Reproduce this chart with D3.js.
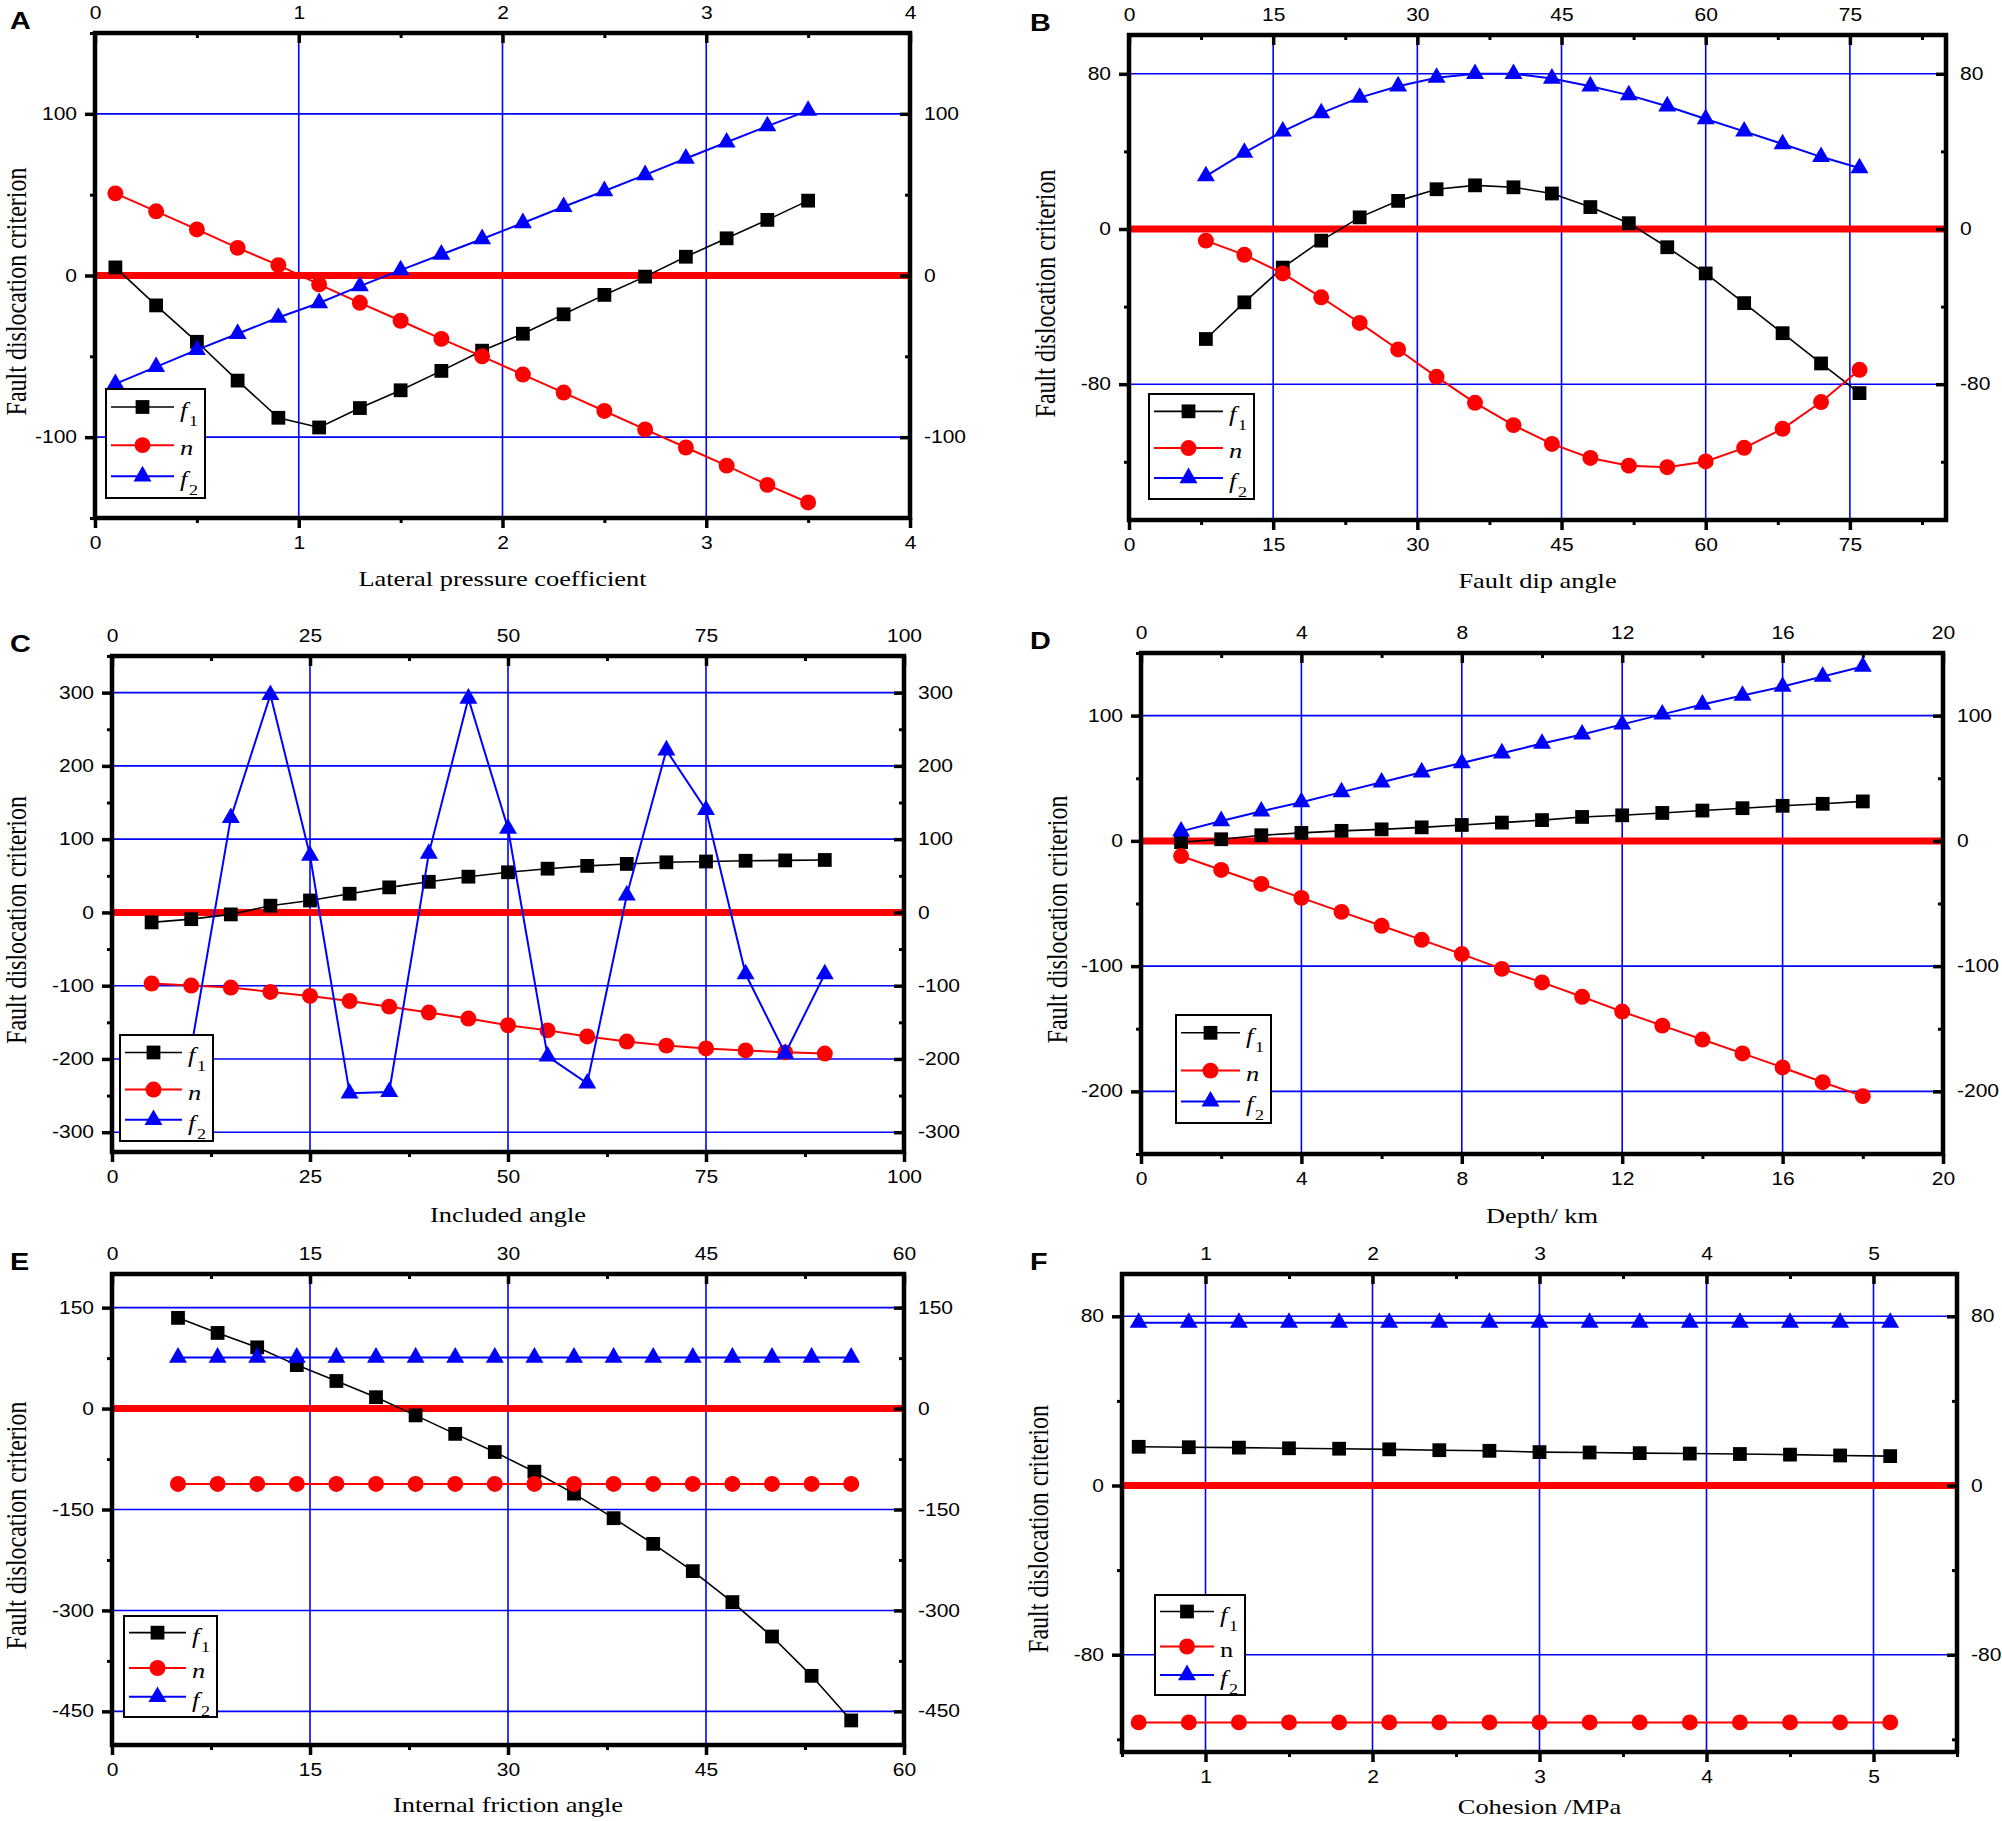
<!DOCTYPE html>
<html>
<head>
<meta charset="utf-8">
<script src="https://cdn.jsdelivr.net/npm/d3@7"></script>
<style>
  body { margin: 0; background: #fff; }
</style>
</head>
<body>
<div id="chart"></div>
<script>
// values, one list per series

// A - lateral pressure coefficient
const lateralX = [0.1, 0.3, 0.5, 0.7, 0.9, 1.1, 1.3, 1.5, 1.7, 1.9, 2.1, 2.3, 2.5, 2.7, 2.9, 3.1, 3.3, 3.5];
const lateralF1 = [5, -18.5, -41, -65, -88, -94, -82, -71, -59, -46.5, -36, -24, -12, -0.7, 11.6, 23, 34.4, 46.3];
const lateralN = [50.8, 39.7, 28.5, 17.1, 6.4, -5.5, -16.9, -28, -39.2, -50, -61.3, -72.4, -83.8, -95.2, -106.4, -117.6, -129.5, -140.4];
const lateralF2 = [-67, -56.5, -46, -36, -26, -17, -6.6, 3.3, 13, 22.6, 32.5, 42.5, 52.3, 62.2, 72.4, 82.4, 92.4, 102];

// B - fault dip angle
const dipX = [8, 12, 16, 20, 24, 28, 32, 36, 40, 44, 48, 52, 56, 60, 64, 68, 72, 76];
const dipF1 = [-56.7, -37.8, -19.9, -6, 6, 14.5, 20.5, 22.5, 21.5, 18.3, 11.3, 3, -9.4, -22.9, -38.2, -53.7, -69.3, -84.6];
const dipN = [-6, -13.3, -22.9, -35.2, -48.4, -62.1, -76.2, -89.6, -101.1, -110.8, -118, -122, -122.8, -119.8, -112.8, -103, -89.2, -72.6];
const dipF2 = [27.3, 39.4, 50.3, 59.7, 67.7, 73.6, 78, 80, 80, 77.6, 73.6, 69, 63.3, 56.7, 50.3, 43.8, 37.2, 31.4];

// C - included angle
const angleX = [5, 10, 15, 20, 25, 30, 35, 40, 45, 50, 55, 60, 65, 70, 75, 80, 85, 90];
const angleF1 = [-13.6, -9.2, -2.7, 9.2, 16.3, 25.5, 34.2, 41.8, 48.8, 54.8, 59.7, 63.5, 66.2, 68.4, 69.5, 70.5, 71, 71.6];
const angleN = [-97, -99.8, -102.5, -108.5, -114, -121, -128.6, -136.7, -144.9, -154, -161, -169.3, -176.3, -181.8, -185.6, -188.3, -191, -192.6];
const angleF2 = [-240, -185, 129, 297, 77.6, -246.9, -245, 80.3, 292, 114.5, -196.4, -233.3, 23.3, 221.4, 140, -84.1, -192.6, -84.1];

// D - depth
const depthX = [1, 2, 3, 4, 5, 6, 7, 8, 9, 10, 11, 12, 13, 14, 15, 16, 17, 18];
const depthF1 = [-1, 1.3, 4.5, 6.4, 8, 9.2, 10.8, 12.7, 14.6, 16.6, 19.1, 20.4, 22.3, 24.2, 26.1, 28, 29.6, 31.5];
const depthN = [-12.1, -23.2, -34.4, -45.5, -56.7, -67.8, -79, -90.4, -102.2, -113, -124.5, -136.3, -147.5, -158.6, -169.7, -180.9, -192.7, -203.8];
const depthF2 = [7.6, 15.9, 23.6, 30.9, 38.9, 46.8, 54.8, 62.1, 70, 77.7, 85, 93, 101, 108.9, 116, 123.2, 131.2, 139.2];

// E - internal friction angle
const frictionX = [5, 8, 11, 14, 17, 20, 23, 26, 29, 32, 35, 38, 41, 44, 47, 50, 53, 56];
const frictionF1 = [134.8, 112.4, 91, 64.6, 41, 16.9, -10.1, -37.6, -64.6, -93.8, -126.4, -162.9, -201.1, -241.6, -287.6, -338.8, -397.2, -463.5];
const frictionN = [-112, -112, -112, -112, -112, -112, -112, -112, -112, -112, -112, -112, -112, -112, -112, -112, -112, -112];
const frictionF2 = [76, 76, 76, 76, 76, 76, 76, 76, 76, 76, 76, 76, 76, 76, 76, 76, 76, 76];

// F - cohesion
const cohesionX = [0.6, 0.9, 1.2, 1.5, 1.8, 2.1, 2.4, 2.7, 3.0, 3.3, 3.6, 3.9, 4.2, 4.5, 4.8, 5.1];
const cohesionF1 = [18.3, 18.1, 17.9, 17.6, 17.4, 17.1, 16.7, 16.4, 15.8, 15.6, 15.3, 15.1, 14.9, 14.6, 14.2, 13.9];
const cohesionN = [-112, -112, -112, -112, -112, -112, -112, -112, -112, -112, -112, -112, -112, -112, -112, -112];
const cohesionF2 = [77, 77, 77, 77, 77, 77, 77, 77, 77, 77, 77, 77, 77, 77, 77, 77];

// tick labels
const lateralTicks = [0, 1, 2, 3, 4];
const dipTicks = [0, 15, 30, 45, 60, 75];
const angleTicks = [0, 25, 50, 75, 100];
const depthTicks = [0, 4, 8, 12, 16, 20];
const frictionTicks = [0, 15, 30, 45, 60];
const cohesionTicks = [1, 2, 3, 4, 5];
const criterionTicksA = [-100, 0, 100];
const criterionTicksB = [-80, 0, 80];
const criterionTicksC = [-300, -200, -100, 0, 100, 200, 300];
const criterionTicksD = [-200, -100, 0, 100];
const criterionTicksE = [-450, -300, -150, 0, 150];
const criterionTicksF = [-80, 0, 80];

const seriesNames = ["f1", "n", "f2"];

// ---- layout ----
const W = 2002, H = 1821;
const SX = 1.2; // type in the figure is stretched sideways
const BLUE = "#0000ff", RED = "#ff0000";

const panels = [
  { letter: "A", box: [95, 910, 33, 518], xDomain: [0, 4], yDomain: [-150, 150],
    xTicks: lateralTicks, xMinor: 0.5, yTicks: criterionTicksA, yMinor: 50,
    x: lateralX, series: [lateralF1, lateralN, lateralF2], titleGap: 68,
    title: "Lateral pressure coefficient", legend: [106, 389, 99, 109], nItalic: true },
  { letter: "B", box: [1129, 1946, 35, 520], xDomain: [0, 85], yDomain: [-150, 100],
    xTicks: dipTicks, xMinor: 7.5, yTicks: criterionTicksB, yMinor: 40,
    x: dipX, series: [dipF1, dipN, dipF2], titleGap: 68,
    title: "Fault dip angle", legend: [1149, 394, 105, 105], nItalic: true },
  { letter: "C", box: [112, 904, 656, 1152], xDomain: [0, 100], yDomain: [-327, 350],
    xTicks: angleTicks, xMinor: 12.5, yTicks: criterionTicksC, yMinor: 50,
    x: angleX, series: [angleF1, angleN, angleF2], titleGap: 70,
    title: "Included angle", legend: [120, 1035, 93, 106], nItalic: true },
  { letter: "D", box: [1141, 1943, 653, 1154], xDomain: [0, 20], yDomain: [-250, 150],
    xTicks: depthTicks, xMinor: 2, yTicks: criterionTicksD, yMinor: 50,
    x: depthX, series: [depthF1, depthN, depthF2], titleGap: 69,
    title: "Depth/ km", legend: [1176, 1015, 95, 108], nItalic: true },
  { letter: "E", box: [112, 904, 1274, 1745], xDomain: [0, 60], yDomain: [-500, 200],
    xTicks: frictionTicks, xMinor: 7.5, yTicks: criterionTicksE, yMinor: 75,
    x: frictionX, series: [frictionF1, frictionN, frictionF2], titleGap: 67,
    title: "Internal friction angle", legend: [124, 1616, 93, 101], nItalic: true },
  { letter: "F", box: [1122, 1957, 1274, 1752], xDomain: [0.5, 5.5], yDomain: [-126, 100],
    xTicks: cohesionTicks, xMinor: 0.5, yTicks: criterionTicksF, yMinor: 40,
    x: cohesionX, series: [cohesionF1, cohesionN, cohesionF2], titleGap: 62,
    title: "Cohesion /MPa", legend: [1155, 1595, 90, 100], nItalic: false }
];

const styles = [
  { color: "#000", width: 1.6, shape: d3.symbolSquare, size: 190 },
  { color: RED, width: 2, shape: d3.symbolCircle, size: 200 },
  { color: BLUE, width: 2, shape: d3.symbolTriangle, size: 140 }
];

const svg = d3
  .select("#chart")
  .append("svg")
  .attr("width", W)
  .attr("height", H)
  .style("background", "#fff");

function minorTicks(domain, step, majors) {
  return d3
    .range(Math.ceil(domain[0] / step - 1e-9), Math.floor(domain[1] / step + 1e-9) + 1)
    .map((k) => k * step)
    .filter((v) => !majors.some((m) => Math.abs(m - v) < 1e-6));
}

// squeeze existing x by SX and scale back so glyphs come out wide
function stretch(sel) {
  sel.each(function () {
    const t = d3.select(this);
    t.attr("x", (+t.attr("x") || 0) / SX).attr("transform", `scale(${SX},1)`);
  });
}

function drawPanel(p) {
  const [x0, x1, y0, y1] = p.box;
  const x = d3.scaleLinear().domain(p.xDomain).range([x0, x1]);
  const y = d3.scaleLinear().domain(p.yDomain).range([y1, y0]);
  const g = svg.append("g").attr("class", "panel-" + p.letter);

  // blue grid at the major ticks
  const grid = g.append("g").attr("stroke", BLUE).attr("stroke-width", 1.6);
  grid
    .selectAll("line.gx")
    .data(p.xTicks.filter((v) => v > p.xDomain[0] && v < p.xDomain[1]))
    .join("line")
    .attr("x1", (d) => x(d))
    .attr("x2", (d) => x(d))
    .attr("y1", y0)
    .attr("y2", y1);
  grid
    .selectAll("line.gy")
    .data(p.yTicks)
    .join("line")
    .attr("x1", x0)
    .attr("x2", x1)
    .attr("y1", (d) => y(d))
    .attr("y2", (d) => y(d));

  // thick red zero line
  g.append("line")
    .attr("x1", x0)
    .attr("x2", x1)
    .attr("y1", y(0))
    .attr("y2", y(0))
    .attr("stroke", RED)
    .attr("stroke-width", 7);

  g.append("rect")
    .attr("x", x0)
    .attr("y", y0)
    .attr("width", x1 - x0)
    .attr("height", y1 - y0)
    .attr("fill", "none")
    .attr("stroke", "#000")
    .attr("stroke-width", 4.5);

  // axes: left/bottom ticks point out, top/right point in
  const sides = [
    { make: d3.axisBottom, scale: x, at: `translate(0,${y1})`, ticks: p.xTicks, minor: p.xMinor, dom: p.xDomain, len: 10, pad: 9 },
    { make: d3.axisTop, scale: x, at: `translate(0,${y0})`, ticks: p.xTicks, minor: p.xMinor, dom: p.xDomain, len: -10, pad: 14 },
    { make: d3.axisLeft, scale: y, at: `translate(${x0},0)`, ticks: p.yTicks, minor: p.yMinor, dom: p.yDomain, len: 10, pad: 8 },
    { make: d3.axisRight, scale: y, at: `translate(${x1},0)`, ticks: p.yTicks, minor: p.yMinor, dom: p.yDomain, len: -10, pad: 14 }
  ];

  sides.forEach((s) => {
    const minor = g
      .append("g")
      .attr("transform", s.at)
      .call(
        s.make(s.scale)
          .tickValues(minorTicks(s.dom, s.minor, s.ticks))
          .tickSize(s.len / 2)
          .tickFormat("")
      );
    minor.select(".domain").remove();
    minor.selectAll("line").attr("stroke-width", 3);

    const major = g
      .append("g")
      .attr("transform", s.at)
      .call(
        s.make(s.scale)
          .tickValues(s.ticks)
          .tickSize(s.len)
          .tickPadding(s.pad)
          .tickFormat((d) => String(d))
      );
    major.select(".domain").remove();
    major.selectAll("line").attr("stroke-width", 3.5);
    major
      .selectAll("text")
      .attr("fill", "#000")
      .style("font-family", "'Liberation Sans', Arial, sans-serif")
      .style("font-size", "17.5px")
      .call(stretch);
  });

  // the three curves
  const line = d3
    .line()
    .x((d) => x(d[0]))
    .y((d) => y(d[1]));

  p.series.forEach((values, i) => {
    const st = styles[i];
    const pts = p.x.map((v, k) => [v, values[k]]);
    g.append("path")
      .datum(pts)
      .attr("d", line)
      .attr("fill", "none")
      .attr("stroke", st.color)
      .attr("stroke-width", st.width);
    g.append("g")
      .selectAll("path")
      .data(pts)
      .join("path")
      .attr("transform", (d) => `translate(${x(d[0])},${y(d[1])})`)
      .attr("d", d3.symbol(st.shape, st.size))
      .attr("fill", st.color);
  });

  // legend: sample line, marker, then the label hugging the right border
  const [lx, ly, lw, lh] = p.legend;
  const lg = g.append("g").attr("transform", `translate(${lx},${ly})`);
  lg.append("rect")
    .attr("width", lw)
    .attr("height", lh)
    .attr("fill", "#fff")
    .attr("stroke", "#000")
    .attr("stroke-width", 2);

  const labelX = lw - 25;
  const lineEnd = lw - 31;
  const rowY = [0.165, 0.515, 0.8].map((f) => f * lh);
  seriesNames.forEach((name, i) => {
    const st = styles[i];
    const ry = rowY[i];
    lg.append("line")
      .attr("x1", 5)
      .attr("x2", lineEnd)
      .attr("y1", ry)
      .attr("y2", ry)
      .attr("stroke", st.color)
      .attr("stroke-width", st.width);
    lg.append("path")
      .attr("transform", `translate(${(5 + lineEnd) / 2},${ry})`)
      .attr("d", d3.symbol(st.shape, st.size))
      .attr("fill", st.color);

    const italic = name !== "n" || p.nItalic;
    lg.append("text")
      .attr("transform", `translate(${labelX},${ry + 10}) scale(${SX},1)`)
      .style("font-family", "'Liberation Serif', 'Times New Roman', serif")
      .style("font-style", italic ? "italic" : "normal")
      .style("font-size", "22px")
      .text(name.charAt(0));
    if (name.length > 1) {
      lg.append("text")
        .attr("transform", `translate(${labelX + 9},${ry + 19}) scale(${SX},1)`)
        .style("font-family", "'Liberation Serif', 'Times New Roman', serif")
        .style("font-size", "15px")
        .text(name.charAt(1));
    }
  });

  // titles
  g.append("text")
    .attr("transform", `translate(${(x0 + x1) / 2},${y1 + p.titleGap}) scale(${SX},1)`)
    .attr("text-anchor", "middle")
    .style("font-family", "'Liberation Serif', 'Times New Roman', serif")
    .style("font-size", "22px")
    .text(p.title);

  const leftCol = p.letter === "A" || p.letter === "C" || p.letter === "E";
  const yTitleX = leftCol ? 16 : x0 - 84;
  g.append("text")
    .attr("transform", `translate(${yTitleX},${(y0 + y1) / 2 + 16}) scale(${SX},1) rotate(-90)`)
    .attr("text-anchor", "middle")
    .attr("dy", "0.35em")
    .style("font-family", "'Liberation Serif', 'Times New Roman', serif")
    .style("font-size", "24px")
    .text("Fault dislocation criterion");

  g.append("text")
    .attr("transform", `translate(${leftCol ? 10 : 1030},${y0 - 4}) scale(${SX},1)`)
    .style("font-family", "'Liberation Sans', Arial, sans-serif")
    .style("font-weight", "bold")
    .style("font-size", "24px")
    .text(p.letter);
}

panels.forEach(drawPanel);
</script>
</body>
</html>
